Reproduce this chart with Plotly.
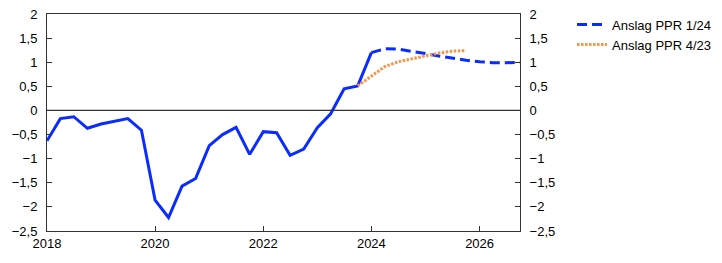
import plotly.graph_objects as go

hist_dates = ["2018-01-01","2018-04-01","2018-07-01","2018-10-01","2019-01-01","2019-04-01","2019-07-01","2019-10-01",
              "2020-01-01","2020-04-01","2020-07-01","2020-10-01","2021-01-01","2021-04-01","2021-07-01","2021-10-01",
              "2022-01-01","2022-04-01","2022-07-01","2022-10-01","2023-01-01","2023-04-01","2023-07-01","2023-10-01",
              "2024-01-01"]
hist_values = [-0.63,-0.17,-0.13,-0.37,-0.28,-0.22,-0.17,-0.41,
               -1.86,-2.22,-1.57,-1.41,-0.73,-0.50,-0.35,-0.91,
               -0.44,-0.46,-0.93,-0.80,-0.36,-0.07,0.45,0.51,
               1.20]

ppr124_dates = ["2024-01-01","2024-04-01","2024-07-01","2024-10-01","2025-01-01","2025-04-01","2025-07-01","2025-10-01",
                "2026-01-01","2026-04-01","2026-07-01","2026-10-01"]
ppr124_values = [1.20,1.28,1.27,1.23,1.18,1.13,1.08,1.04,1.01,0.99,0.99,1.00]

ppr423_dates = ["2023-10-01","2024-01-01","2024-04-01","2024-07-01","2024-10-01","2025-01-01","2025-04-01","2025-07-01","2025-10-01"]
ppr423_values = [0.51,0.71,0.91,1.01,1.07,1.13,1.19,1.23,1.24]

y_ticks = [2, 1.5, 1, 0.5, 0, -0.5, -1, -1.5, -2, -2.5]
y_labels = ["2", "1,5", "1", "0,5", "0", "\u22120,5", "\u22121", "\u22121,5", "\u22122", "\u22122,5"]
x_ticks = ["2018-01-01", "2020-01-01", "2022-01-01", "2024-01-01", "2026-01-01"]
x_labels = ["2018", "2020", "2022", "2024", "2026"]

BLUE = "#0a2cff"
ORANGE = "#f5954a"
AX = "#333333"
FONT = "Liberation Sans, Arial"

fig = go.Figure()
fig.add_trace(go.Scatter(x=hist_dates, y=hist_values, mode="lines",
                         line=dict(color=BLUE, width=3), showlegend=False))
fig.add_trace(go.Scatter(x=ppr124_dates, y=ppr124_values, mode="lines", name="Anslag PPR 1/24",
                         line=dict(color=BLUE, width=3, dash="10px,5px")))
fig.add_trace(go.Scatter(x=ppr423_dates, y=ppr423_values, mode="lines", name="Anslag PPR 4/23",
                         line=dict(color=ORANGE, width=3, dash="2.5px,1.5px")))
# invisible trace for right axis
fig.add_trace(go.Scatter(x=[hist_dates[0]], y=[0], yaxis="y2", mode="lines",
                         line=dict(width=0), showlegend=False, hoverinfo="skip"))

yax = dict(range=[-2.5, 2], tickvals=y_ticks, ticktext=y_labels, ticks="inside", ticklen=5,
           tickcolor=AX, showline=True, linecolor=AX, linewidth=1, showgrid=False,
           zeroline=False, tickfont=dict(family=FONT, size=13, color="#000"),
           ticklabelstandoff=6, automargin=False)

fig.update_layout(
    width=722, height=263,
    margin=dict(l=47, r=202, t=14, b=32, autoexpand=False),
    paper_bgcolor="white", plot_bgcolor="white",
    font=dict(family=FONT, size=13, color="#000"),
    xaxis=dict(type="date", range=["2018-01-01", "2026-10-01"], tickvals=x_ticks, ticktext=x_labels,
               ticks="inside", ticklen=5, tickcolor=AX, showline=True, linecolor=AX, linewidth=1,
               mirror=True, showgrid=False, zeroline=False, automargin=False,
               tickfont=dict(family=FONT, size=13, color="#000")),
    yaxis=yax,
    yaxis2=dict(yax, overlaying="y", side="right"),
    legend=dict(x=1.11, y=1.02, xanchor="left", yanchor="top", bgcolor="rgba(0,0,0,0)",
                font=dict(family=FONT, size=13, color="#000"),
                tracegroupgap=0, itemwidth=30),
    shapes=[dict(type="line", xref="paper", x0=0, x1=1, yref="y", y0=0, y1=0,
                 line=dict(color=AX, width=1.2))],
)

fig.write_html("out.html")
